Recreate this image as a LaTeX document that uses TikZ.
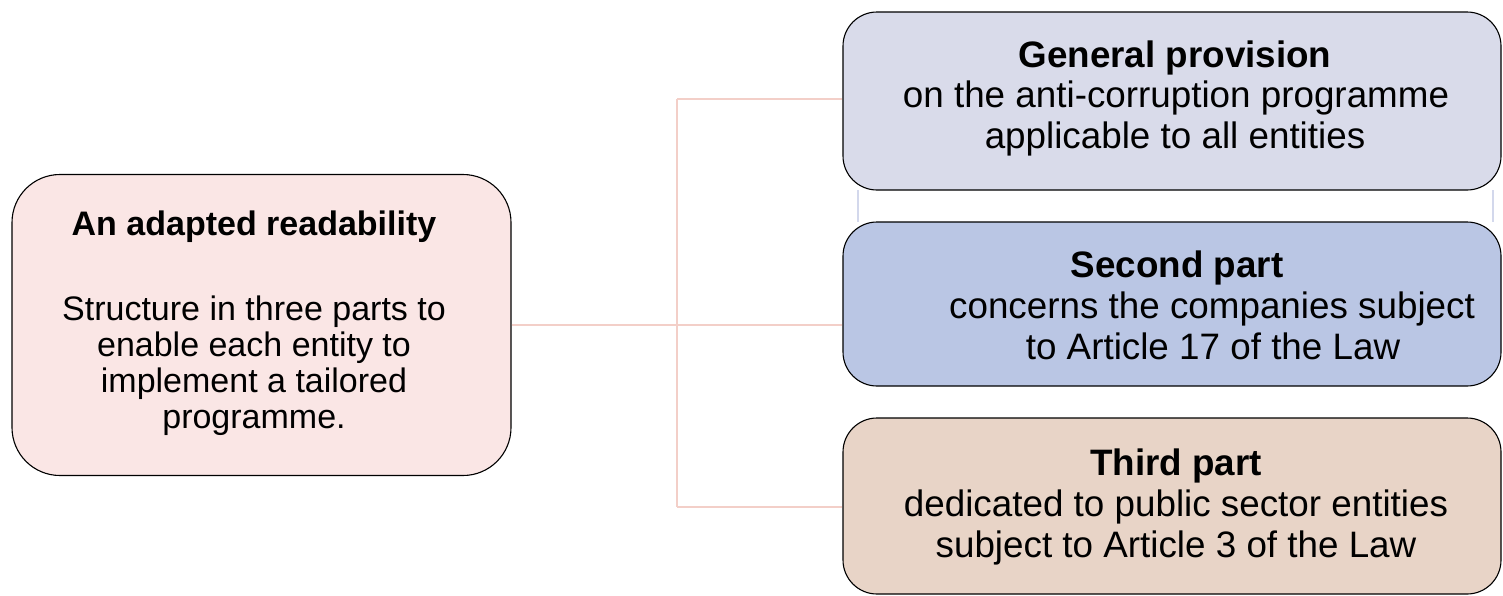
\documentclass[tikz,border=0pt]{standalone}
\usepackage{fontspec}
\setmainfont{Liberation Sans}
\begin{document}
\definecolor{leftfill}{HTML}{FAE6E5}
\definecolor{genfill}{HTML}{D9DBEA}
\definecolor{secfill}{HTML}{BAC6E4}
\definecolor{thirdfill}{HTML}{E8D4C7}
\definecolor{linkcol}{HTML}{F3CFC8}
\definecolor{ghostcol}{HTML}{D3D8EC}
\begin{tikzpicture}[x=1pt,y=-1pt,
  box/.style={draw=black,line width=1.1pt,inner sep=0pt,rounded corners=#1},
  box/.default=34pt,
  partbox/.style={box,minimum width=658pt},
  conn/.style={draw=linkcol,line width=2pt},
  lt/.style={anchor=base,inner sep=0pt,font=\fontsize{34}{40}\selectfont},
  rt/.style={anchor=base,inner sep=0pt,font=\fontsize{36.8}{41}\selectfont}]
\useasboundingbox (0,0) rectangle (1503,595);

% faint frame edges between the first two parts
\draw[ghostcol,line width=1.2pt] (858,190) -- (858,222);
\draw[ghostcol,line width=1.2pt] (1493,190) -- (1493,222);

% boxes
\node[box=48pt,fill=leftfill,minimum width=499pt,minimum height=301pt] (L) at (261.5,325) {};
\node[partbox,fill=genfill,minimum height=178pt] (A) at (1172,101) {};
\node[partbox,fill=secfill,minimum height=164pt] (B) at (1172,304) {};
\node[partbox,fill=thirdfill,minimum height=176pt] (C) at (1172,506) {};

% connectors
\coordinate (jt) at (677,99);
\coordinate (jb) at (677,507);
\draw[conn] (jt) -- (jb);
\draw[conn] (L.east) -- (L.east -| B.west);
\draw[conn] (jt) -- (jt -| A.west);
\draw[conn] (jb) -- (jb -| C.west);

% left box text
\node[lt,font=\fontsize{34}{40}\selectfont\bfseries] (l0) at (254,235) {An adapted readability};
\node[lt] (l1) at (254,320) {Structure in three parts to};
\node[lt] (l2) at (254,356) {enable each entity to};
\node[lt] (l3) at (254,392) {implement a tailored};
\node[lt] (l4) at (254,428) {programme.};

% general provision
\node[rt,font=\fontsize{36.8}{41}\selectfont\bfseries] (a0) at (1175,67) {General provision};
\node[rt] (a1) at (1176,107) {on the anti-corruption programme};
\node[rt] (a2) at (1175,148) {applicable to all entities};

% second part
\node[rt,font=\fontsize{36.8}{41}\selectfont\bfseries] (b0) at (1177,277) {Second part};
\node[rt] (b1) at (1212,318) {concerns the companies subject};
\node[rt] (b2) at (1213,359) {to Article 17 of the Law};

% third part
\node[rt,font=\fontsize{36.8}{41}\selectfont\bfseries] (c0) at (1176,475) {Third part};
\node[rt] (c1) at (1176,516) {dedicated to public sector entities};
\node[rt] (c2) at (1176,557) {subject to Article 3 of the Law};
\end{tikzpicture}
\end{document}
